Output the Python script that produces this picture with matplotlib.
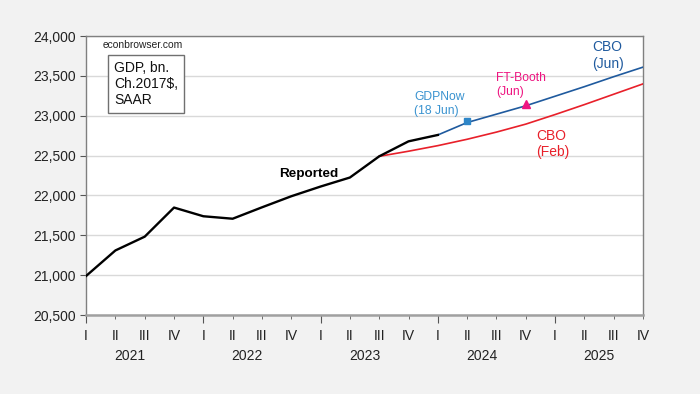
import matplotlib
matplotlib.use("Agg")
import matplotlib.pyplot as plt
import matplotlib.transforms as mtransforms
from matplotlib.ticker import FixedLocator, FixedFormatter, FuncFormatter

plt.rcParams['font.family'] = ['Liberation Sans', 'DejaVu Sans']

# quarters 2021Q1 .. 2025Q4
quarters = ['I', 'II', 'III', 'IV'] * 5
years = ['2021', '2022', '2023', '2024', '2025']

# reported real GDP, 2021Q1 - 2024Q1
reported = [20990, 21310, 21483, 21848, 21739, 21708, 21851, 21990,
            22112, 22225, 22491, 22679, 22759]

# CBO February projection, 2023Q3 - 2025Q4
cbo_feb = [22491, 22555, 22625, 22705, 22795, 22895, 23015, 23140, 23270, 23400]

# CBO June projection, 2024Q1 - 2025Q4
cbo_jun = [22759, 22915, 23020, 23125, 23245, 23365, 23490, 23610]

# GDPNow (18 Jun) for 2024Q2, FT-Booth (Jun) for 2024Q4
gdpnow_q, gdpnow_val = 13, 22937
ftbooth_q, ftbooth_val = 15, 23143

x_rep = list(range(0, len(reported)))
x_feb = list(range(10, 10 + len(cbo_feb)))
x_jun = list(range(12, 12 + len(cbo_jun)))

fig = plt.figure(figsize=(7, 3.94), dpi=100, facecolor='#F2F2F2')
ax = fig.add_axes([0.123, 0.2005, 0.7956, 0.708])
ax.set_facecolor('white')

ax.plot(x_feb, cbo_feb, color='#E8202A', lw=1.2, zorder=3)
ax.plot(x_jun, cbo_jun, color='#1F5A9E', lw=1.2, zorder=3)
ax.plot(x_rep, reported, color='black', lw=1.7, zorder=4)
ax.plot([gdpnow_q], [gdpnow_val], marker='s', ms=4, color='#2E86C8', zorder=5)
ax.plot([ftbooth_q], [ftbooth_val], marker='^', ms=6, color='#EE1480', zorder=5)

ax.set_xlim(0, 19)
ax.set_ylim(20500, 24000)
ax.set_yticks(range(20500, 24001, 500))
ax.yaxis.set_major_formatter(FuncFormatter(lambda v, p: f'{int(v):,}'))
ax.grid(axis='y', color='#D9D9D9', lw=1)
ax.set_axisbelow(True)

major = [i for i in range(20) if i % 4 == 0]
minor = [i for i in range(20) if i % 4 != 0]
ax.xaxis.set_major_locator(FixedLocator(major))
ax.xaxis.set_major_formatter(FixedFormatter([quarters[i] for i in major]))
ax.xaxis.set_minor_locator(FixedLocator(minor))
ax.xaxis.set_minor_formatter(FixedFormatter([quarters[i] for i in minor]))
ax.tick_params(axis='x', which='major', length=6, color='#555555', labelsize=10, pad=4, labelcolor='#222222')
ax.tick_params(axis='x', which='minor', length=3, color='#555555', labelsize=10, pad=7, labelcolor='#222222')
ax.tick_params(axis='y', length=4, color='#555555', labelsize=10, labelcolor='#222222')

for s in ax.spines.values():
    s.set_color('#808080')
    s.set_linewidth(1.0)
ax.spines['bottom'].set_linewidth(1.8)
ax.spines['bottom'].set_color('#A0A0A0')

trans = mtransforms.blended_transform_factory(ax.transData, ax.transAxes)
for k, yr in enumerate(years):
    ax.text(1.5 + 4 * k, -0.148, yr, transform=trans, ha='center', va='center',
            fontsize=10, color='#222222')

ax.text(0.029, 0.968, 'econbrowser.com', transform=ax.transAxes, fontsize=7.4,
        ha='left', va='center', color='#222222')
ax.text(0.05, 0.828, 'GDP, bn.\nCh.2017$,\nSAAR', transform=ax.transAxes, fontsize=10,
        ha='left', va='center', linespacing=1.2, color='#111111',
        bbox=dict(boxstyle='square,pad=0.42', fc='white', ec='#707070', lw=1))

# multi-line labels: y is the baseline of the last line
ax.text(6.57, 22228, 'Reported', fontsize=9.7, fontweight='bold', ha='left', va='baseline')
ax.text(11.2, 23020, 'GDPNow\n(18 Jun)', fontsize=8.7, color='#3A93D0', ha='left',
        va='baseline', linespacing=1.2)
ax.text(13.99, 23262, 'FT-Booth\n(Jun)', fontsize=8.7, color='#EE1480', ha='left',
        va='baseline', linespacing=1.2)
ax.text(17.28, 23600, 'CBO\n(Jun)', fontsize=10, color='#1F5A9E', ha='left',
        va='baseline', linespacing=1.25)
ax.text(15.37, 22490, 'CBO\n(Feb)', fontsize=10, color='#E8202A', ha='left',
        va='baseline', linespacing=1.25)

fig.savefig('out.png', dpi=100, facecolor=fig.get_facecolor())
